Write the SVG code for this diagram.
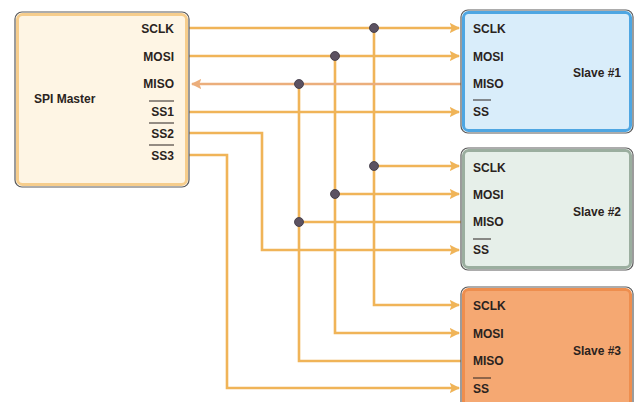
<svg xmlns="http://www.w3.org/2000/svg" width="637" height="402" viewBox="0 0 637 402">
<style>
  text { font-family: "Liberation Sans", Arial, sans-serif; font-weight: bold; font-size: 12px; fill: #2a2320; }
  .w { fill: none; stroke: #F0B458; stroke-width: 2.6; }
  .miso { fill: none; stroke: #EBAE7C; stroke-width: 2.6; }
  .ov { stroke: #2a2320; stroke-width: 1; }
  .dot { fill: #5C5262; stroke: #3a3340; stroke-width: 0.8; }
  .out { fill: none; stroke: #5a5a5a; stroke-width: 1.2; }
</style>
<defs>
  <marker id="ah" viewBox="0 0 10 10" refX="9" refY="5" markerWidth="4" markerHeight="4" orient="auto" markerUnits="strokeWidth">
    <path d="M0,0 L10,5 L0,10 L2,5 Z" fill="#F0B458"/>
  </marker>
  <marker id="ahm" viewBox="0 0 10 10" refX="9" refY="5" markerWidth="4" markerHeight="4" orient="auto" markerUnits="strokeWidth">
    <path d="M0,0 L10,5 L0,10 L2,5 Z" fill="#EBAE7C"/>
  </marker>
</defs>
<rect width="637" height="402" fill="#ffffff"/>

<g id="connectors">
  <path class="w" d="M189,28 H459" marker-end="url(#ah)"/>
  <path class="w" d="M374,28 V305 H459" marker-end="url(#ah)"/>
  <path class="w" d="M374,166 H459" marker-end="url(#ah)"/>
  <path class="w" d="M189,56 H459" marker-end="url(#ah)"/>
  <path class="w" d="M335,56 V333 H459" marker-end="url(#ah)"/>
  <path class="w" d="M335,194 H459" marker-end="url(#ah)"/>
  <path class="miso" d="M461,84 H192" marker-end="url(#ahm)"/>
  <path class="w" d="M299,84 V361 H461"/>
  <path class="w" d="M299,222 H461"/>
  <path class="w" d="M189,112 H459" marker-end="url(#ah)"/>
  <path class="w" d="M189,133 H262 V250 H459" marker-end="url(#ah)"/>
  <path class="w" d="M189,155 H227 V388 H459" marker-end="url(#ah)"/>
  <circle class="dot" cx="374" cy="28" r="4.5"/>
  <circle class="dot" cx="335" cy="56" r="4.5"/>
  <circle class="dot" cx="299" cy="84" r="4.5"/>
  <circle class="dot" cx="374" cy="166" r="4.5"/>
  <circle class="dot" cx="335" cy="194" r="4.5"/>
  <circle class="dot" cx="299" cy="222" r="4.5"/>
</g>

<g id="master">
  <rect class="out" x="15" y="12" width="174" height="175" rx="7"/>
  <rect x="17.5" y="14.5" width="169" height="170" rx="5" fill="#FEF5E4" stroke="#F6CD8C" stroke-width="3"/>
  <text x="34" y="103">SPI Master</text>
  <text x="174" y="33" text-anchor="end">SCLK</text>
  <text x="174" y="61" text-anchor="end">MOSI</text>
  <text x="174" y="88" text-anchor="end">MISO</text>
  <text x="174" y="116" text-anchor="end">SS1</text>
  <line class="ov" x1="149" y1="101" x2="174" y2="101"/>
  <text x="174" y="138" text-anchor="end">SS2</text>
  <line class="ov" x1="149" y1="123" x2="174" y2="123"/>
  <text x="174" y="160" text-anchor="end">SS3</text>
  <line class="ov" x1="149" y1="145" x2="174" y2="145"/>
</g>

<g id="slave1">
  <rect class="out" x="461" y="10" width="172" height="123" rx="7"/>
  <rect x="463.5" y="12.5" width="167" height="118" rx="5" fill="#D9EDFA" stroke="#4EA6E2" stroke-width="3"/>
  <text x="473" y="33">SCLK</text>
  <text x="473" y="61">MOSI</text>
  <text x="473" y="88">MISO</text>
  <text x="473" y="116">SS</text>
  <line class="ov" x1="473" y1="100" x2="491" y2="100"/>
  <text x="621" y="77" text-anchor="end">Slave #1</text>
</g>

<g id="slave2">
  <rect class="out" x="461" y="148" width="172" height="122" rx="7"/>
  <rect x="463.5" y="150.5" width="167" height="117" rx="5" fill="#E6EFE9" stroke="#9BAE9F" stroke-width="3"/>
  <text x="473" y="172">SCLK</text>
  <text x="473" y="199">MOSI</text>
  <text x="473" y="226">MISO</text>
  <text x="473" y="254">SS</text>
  <line class="ov" x1="473" y1="239" x2="491" y2="239"/>
  <text x="621" y="216" text-anchor="end">Slave #2</text>
</g>

<g id="slave3">
  <rect class="out" x="461" y="287" width="172" height="125" rx="7"/>
  <rect x="463.5" y="289.5" width="167" height="120" rx="5" fill="#F5A872" stroke="#EE8E4E" stroke-width="3"/>
  <text x="473" y="310">SCLK</text>
  <text x="473" y="338">MOSI</text>
  <text x="473" y="365">MISO</text>
  <text x="473" y="393">SS</text>
  <line class="ov" x1="473" y1="378" x2="491" y2="378"/>
  <text x="621" y="355" text-anchor="end">Slave #3</text>
</g>
</svg>
